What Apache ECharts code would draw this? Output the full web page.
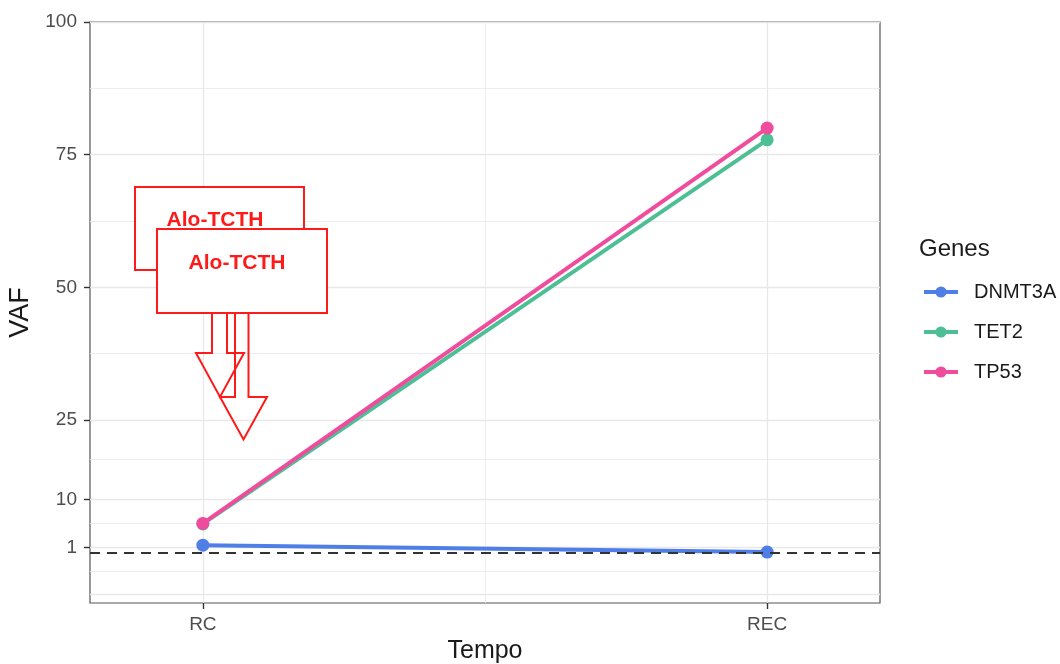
<!DOCTYPE html>
<html>
<head>
<meta charset="utf-8">
<script src="https://cdn.jsdelivr.net/npm/echarts@6/dist/echarts.min.js"></script>
<style>
  html, body { margin: 0; padding: 0; background: #fff; }
  #chart { width: 1060px; height: 664px; }
</style>
</head>
<body>
<div id="chart"></div>
<script>
// データ
const times = ['RC', 'REC'];
const genes = ['DNMT3A', 'TET2', 'TP53'];
const dnmt3a = [1.4, 0.1];
const tet2 = [5.4, 77.8];
const tp53 = [5.5, 80.0];
const yBreaks = [1, 10, 25, 50, 75, 100];
const yMinor = [-3.5, 5.5, 17.5, 37.5, 62.5, 87.5];
const yExtraMajor = [-7.8];
const xMinor = [1.5];
const cutoff = 0;
const annotations = ['Alo-TCTH', 'Alo-TCTH'];

const colors = { DNMT3A: '#4f7fe6', TET2: '#4dbf94', TP53: '#f04c9d' };
const FONT = '"Liberation Sans", Arial, sans-serif';
const GRID_COLOR = '#e8e8e8';

const toPoints = (vals) => vals.map((v, i) => [i + 1, v]);
const xTickValues = times.map((t, i) => i + 1);

const chart = echarts.init(document.getElementById('chart'));

const mkSeries = (name, vals) => ({
  name,
  type: 'line',
  data: toPoints(vals),
  symbol: 'circle',
  symbolSize: 13,
  showSymbol: true,
  lineStyle: { color: colors[name], width: 4 },
  itemStyle: { color: colors[name] },
  emphasis: { disabled: true },
  animation: false,
  z: 3,
});

// 注釈（吹き出し）
const redLine = { stroke: '#ff1a1a', lineWidth: 2, fill: null };
const callout = (box, arrow, text, tx, ty, z) => [
  {
    type: 'rect',
    shape: box,
    style: { fill: '#fff', stroke: '#ff1a1a', lineWidth: 2 },
    z,
  },
  {
    type: 'polyline',
    shape: { points: arrow },
    style: redLine,
    z,
  },
  {
    type: 'text',
    x: tx,
    y: ty,
    style: {
      text,
      fill: '#ff1a1a',
      font: 'bold 21px ' + FONT,
      align: 'center',
      verticalAlign: 'middle',
    },
    z: z + 1,
  },
];

chart.setOption({
  animation: false,
  textStyle: { fontFamily: FONT },
  grid: {
    left: 90,
    right: 180,
    top: 22,
    bottom: 61,
    outerBoundsMode: 'none',
    containLabel: false,
    show: true,
    borderColor: '#555',
    borderWidth: 1.2,
    backgroundColor: 'transparent',
  },
  title: {
    text: 'Genes',
    left: 919,
    top: 237,
    padding: 0,
    textStyle: { fontSize: 24, fontWeight: 'normal', color: '#1a1a1a', fontFamily: FONT },
  },
  legend: {
    data: genes,
    orient: 'vertical',
    left: 917,
    top: 277,
    itemWidth: 34,
    itemHeight: 14,
    itemGap: 20,
    lineStyle: { width: 4 },
    textStyle: { fontSize: 20, color: '#1a1a1a', lineHeight: 20, padding: [0, 0, 0, 11] },
    selectedMode: false,
  },
  xAxis: [
    {
      // 主軸
      type: 'value',
      min: 0.8,
      max: 2.2,
      name: 'Tempo',
      nameLocation: 'middle',
      nameGap: 35,
      nameTextStyle: { fontSize: 25, color: '#1a1a1a' },
      axisLine: { show: false, onZero: false },
      axisTick: {
        show: true,
        length: 6,
        customValues: xTickValues,
        lineStyle: { color: '#333', width: 1.4 },
      },
      axisLabel: {
        customValues: xTickValues,
        fontSize: 19,
        color: '#4d4d4d',
        margin: 12,
        formatter: (v) => times[Math.round(v) - 1] || '',
      },
      splitLine: { show: true, lineStyle: { color: GRID_COLOR, width: 1.3 } },
    },
    {
      // 副グリッド
      type: 'value',
      min: 0.8,
      max: 2.2,
      position: 'bottom',
      axisLine: { show: false, onZero: false },
      axisTick: { show: false, customValues: xMinor },
      axisLabel: { show: false, customValues: xMinor },
      splitLine: { show: true, lineStyle: { color: GRID_COLOR, width: 0.8 } },
    },
  ],
  yAxis: [
    {
      type: 'value',
      min: -9.5,
      max: 100,
      name: 'VAF',
      nameLocation: 'middle',
      nameGap: 53,
      nameTextStyle: { fontSize: 27, color: '#1a1a1a' },
      axisLine: { show: false, onZero: false },
      axisTick: {
        show: true,
        length: 6,
        customValues: yBreaks,
        lineStyle: { color: '#333', width: 1.4 },
      },
      axisLabel: {
        customValues: yBreaks,
        fontSize: 19,
        color: '#4d4d4d',
        margin: 13,
      },
      splitLine: { show: true, lineStyle: { color: GRID_COLOR, width: 1.3 } },
    },
    {
      type: 'value',
      min: -9.5,
      max: 100,
      axisLine: { show: false, onZero: false },
      axisTick: { show: false, customValues: yMinor },
      axisLabel: { show: false, customValues: yMinor },
      splitLine: { show: true, lineStyle: { color: GRID_COLOR, width: 0.8 } },
    },
    {
      type: 'value',
      min: -9.5,
      max: 100,
      axisLine: { show: false, onZero: false },
      axisTick: { show: false, customValues: yExtraMajor },
      axisLabel: { show: false, customValues: yExtraMajor },
      splitLine: { show: true, lineStyle: { color: GRID_COLOR, width: 1.3 } },
    },
  ],
  series: [
    mkSeries('DNMT3A', dnmt3a),
    mkSeries('TET2', tet2),
    mkSeries('TP53', tp53),
    {
      // 破線（閾値）
      type: 'line',
      data: [],
      silent: true,
      z: 5,
      markLine: {
        silent: true,
        symbol: 'none',
        label: { show: false },
        animation: false,
        lineStyle: { color: '#333', width: 2.2, type: [10, 7] },
        data: [{ yAxis: cutoff }],
      },
    },
  ],
  graphic: [
    ...callout(
      { x: 135, y: 187, width: 169, height: 83 },
      [[212, 270], [212, 353], [196, 353], [220, 397], [244, 353], [227, 353], [227, 270]],
      annotations[0], 215, 220, 100
    ),
    ...callout(
      { x: 157, y: 229, width: 170, height: 84 },
      [[235, 313], [235, 397], [220, 397], [243.5, 439.5], [267, 397], [248.5, 397], [248.5, 313]],
      annotations[1], 237, 263, 110
    ),
  ],
});
</script>
</body>
</html>
